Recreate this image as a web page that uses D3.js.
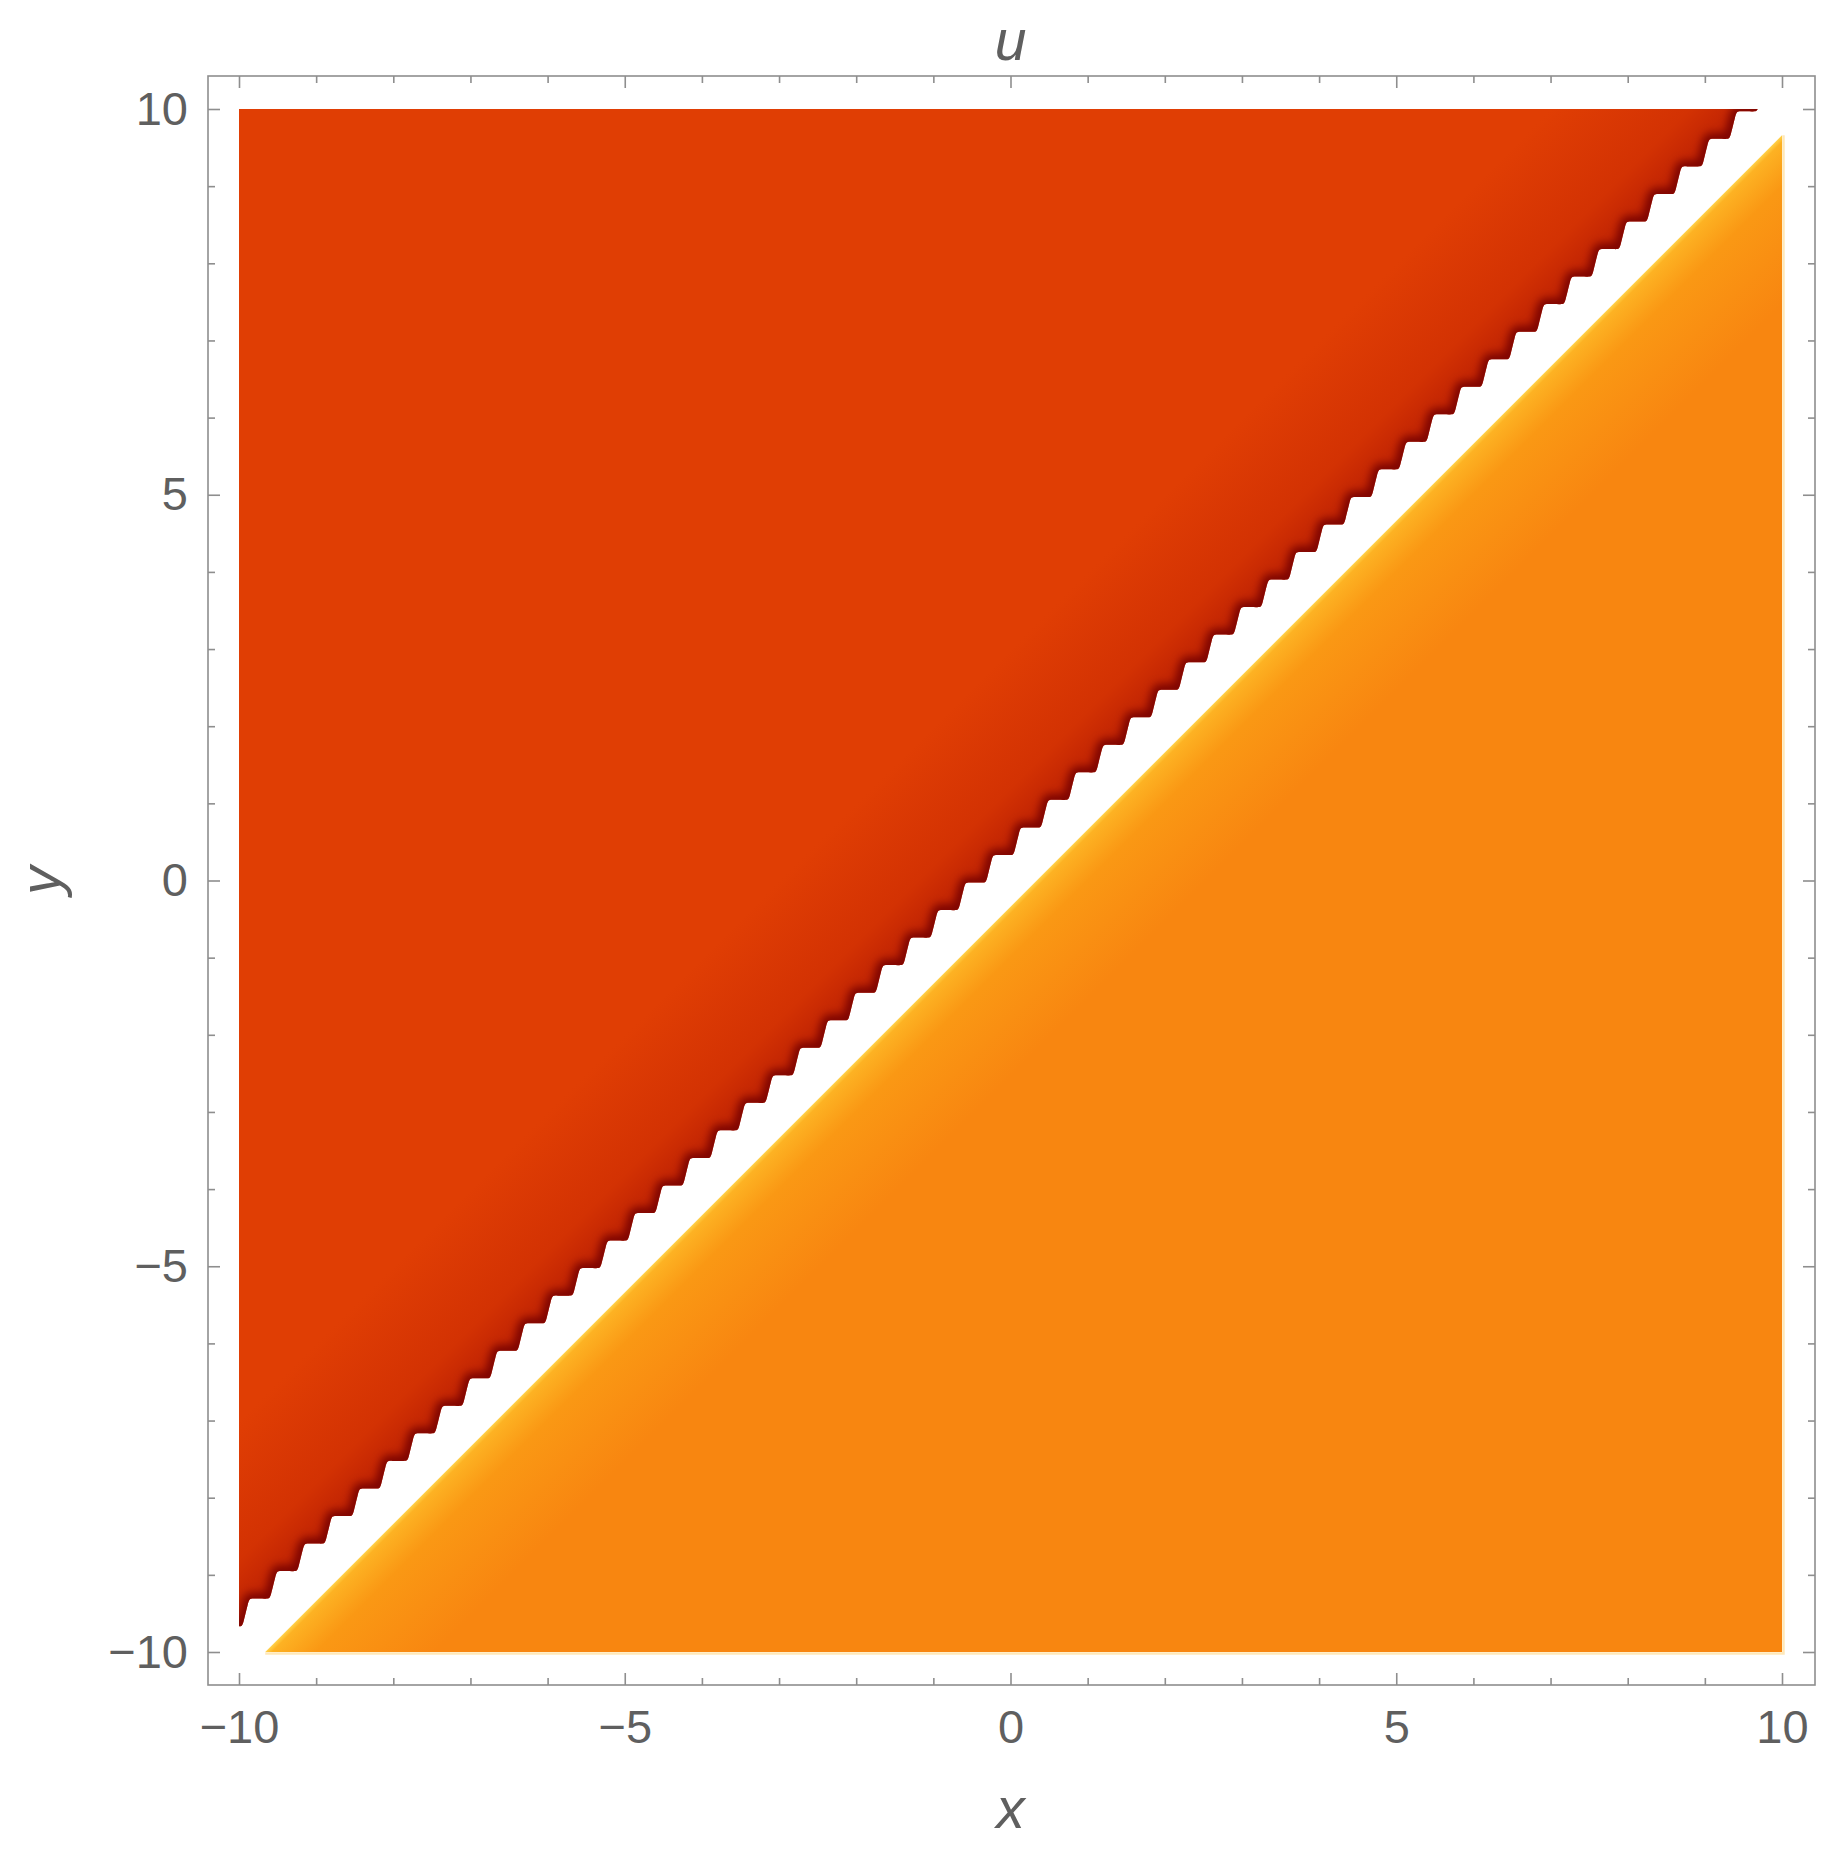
<!DOCTYPE html>
<html><head><meta charset="utf-8">
<script src="https://cdn.jsdelivr.net/npm/d3@7"></script>
<style>body{margin:0;background:#fff}</style>
</head><body>
<svg id="chart" width="1839" height="1858"></svg>
<script>
// ---- data ----
const xDomain = [-10, 10];
const yDomain = [-10, 10];
const majorTicks = [-10, -5, 0, 5, 10];
const minorTicks = [-9, -8, -7, -6, -4, -3, -2, -1, 1, 2, 3, 4, 6, 7, 8, 9];
const tickLabels = ["\u221210", "\u22125", "0", "5", "10"];
const regionNames = ["above", "below"];
const regionU = [0.3, 0.7];               // u level of each region
const regionEdgeOffset = [0.29, -0.34];   // y - x where each region stops
const stairStep = 0.357;                  // sampling step of the jagged edge
const stairTooth = [0.09, 0.36];          // tip -> inner corner of one tooth
const stairPhase = -9.6;                  // x of one tooth tip
const colorDomain = [0, 0.3, 0.7, 1];
const colorRange = ["#760700", "#E03E04", "#F88610", "#FFD23A"];
const titleText = "u", xLabel = "x", yLabel = "y";

// ---- layout ----
const svg = d3.select("#chart");
const frame = {l: 208, t: 76, r: 1815, b: 1685};
const x = d3.scaleLinear().domain(xDomain).range([239, 1782]);
const y = d3.scaleLinear().domain(yDomain).range([1652, 109]);
const color = d3.scaleLinear().domain(colorDomain).range(colorRange);
const font = "'Liberation Sans', Arial, Helvetica, sans-serif";
const defs = svg.append("defs");

defs.append("clipPath").attr("id", "plotClip").append("rect")
  .attr("x", x(-10)).attr("y", y(10)).attr("width", x(10) - x(-10)).attr("height", y(-10) - y(10));

// jagged upper edge corners (data coords)
const corners = [];
for (let k = -3; k <= 60; k++) {
  const tx = stairPhase + k * stairStep;
  const ty = tx + regionEdgeOffset[0];
  corners.push([tx, ty]);
  corners.push([tx + stairTooth[0], ty + stairTooth[1]]);
}
// guide points near each corner so the curve rounds corners only slightly
const stair = [];
for (let i = 0; i < corners.length - 1; i++) {
  const a = corners[i], b = corners[i + 1];
  stair.push(a);
  [0.2, 0.8].forEach(t => stair.push([a[0] + (b[0] - a[0]) * t, a[1] + (b[1] - a[1]) * t]));
}
stair.push(corners[corners.length - 1]);

const upperPoly = [[-11, 11], [-11, stair[0][1]], ...stair, [stair[stair.length - 1][0], 11]];
const lowerPoly = [[-10 - regionEdgeOffset[1], -10], [10, -10], [10, 10 + regionEdgeOffset[1]]];
const line = d3.line().x(d => x(d[0])).y(d => y(d[1]));
const curvy = d3.line().x(d => x(d[0])).y(d => y(d[1])).curve(d3.curveBasis);

// gradients
const cU = color(regionU[0]), cL = color(regionU[1]);
const s2 = Math.SQRT1_2;
const up0 = [x(0), y(0.42)];
const gU = defs.append("linearGradient").attr("id", "gU").attr("gradientUnits", "userSpaceOnUse")
  .attr("x1", up0[0]).attr("y1", up0[1]).attr("x2", up0[0] - 140 * s2).attr("y2", up0[1] - 140 * s2);
[[0, "#bf2203"], [0.3, "#d33203"], [1, cU]].forEach(s => gU.append("stop").attr("offset", s[0]).attr("stop-color", s[1]));
const lo0 = [x(0), y(regionEdgeOffset[1])];
const gL = defs.append("linearGradient").attr("id", "gL").attr("gradientUnits", "userSpaceOnUse")
  .attr("x1", lo0[0]).attr("y1", lo0[1]).attr("x2", lo0[0] + 120 * s2).attr("y2", lo0[1] + 120 * s2);
[[0, "#FFD24A"], [0.04, "#FDB223"], [0.3, "#FA9814"], [1, cL]].forEach(s => gL.append("stop").attr("offset", s[0]).attr("stop-color", s[1]));

defs.append("clipPath").attr("id", "upperClip").append("path").attr("d", curvy(upperPoly));
defs.append("filter").attr("id", "blur").attr("x", "-10%").attr("y", "-10%").attr("width", "120%").attr("height", "120%")
  .append("feGaussianBlur").attr("stdDeviation", 4);

const plot = svg.append("g").attr("clip-path", "url(#plotClip)");
plot.append("path").attr("d", curvy(upperPoly)).attr("fill", "url(#gU)");
plot.append("g").attr("clip-path", "url(#upperClip)")
  .append("path").attr("d", curvy(stair)).attr("fill", "none")
  .attr("stroke", color(0)).attr("stroke-width", 12).attr("stroke-opacity", 0.9)
  .attr("filter", "url(#blur)");
plot.append("path").attr("d", line(lowerPoly)).attr("fill", "url(#gL)");

// pale rim of the lower region
svg.append("path")
  .attr("d", `M${x(lowerPoly[0][0])},${y(-10) + 1.5}H${x(10) + 1.5}V${y(lowerPoly[2][1])}`)
  .attr("fill", "none").attr("stroke", "#FFD98A").attr("stroke-width", 2.5).attr("stroke-opacity", 0.6);

// ---- frame & ticks ----
svg.append("rect").attr("x", frame.l).attr("y", frame.t)
  .attr("width", frame.r - frame.l).attr("height", frame.b - frame.t)
  .attr("fill", "none").attr("stroke", "#8e8e8e").attr("stroke-width", 1.6);

const fmt = d => tickLabels[majorTicks.indexOf(d)];
function axis(gen, tr, vals, size, labels, pad) {
  const a = gen.tickValues(vals).tickSizeInner(-size).tickSizeOuter(0).tickPadding(pad)
    .tickFormat(labels ? fmt : () => "");
  const g = svg.append("g").attr("transform", tr).call(a);
  g.select(".domain").remove();
  g.selectAll(".tick line").attr("stroke", "#8e8e8e").attr("stroke-width", 1.6);
  g.selectAll(".tick text").attr("fill", "#5f5f5f").attr("font-family", font).attr("font-size", 47);
  return g;
}
axis(d3.axisBottom(x), `translate(0,${frame.b})`, majorTicks, 12, true, 25);
axis(d3.axisBottom(x), `translate(0,${frame.b})`, minorTicks, 7, false, 0);
axis(d3.axisTop(x), `translate(0,${frame.t})`, majorTicks, 12, false, 0);
axis(d3.axisTop(x), `translate(0,${frame.t})`, minorTicks, 7, false, 0);
axis(d3.axisLeft(y), `translate(${frame.l},0)`, majorTicks, 12, true, 20);
axis(d3.axisLeft(y), `translate(${frame.l},0)`, minorTicks, 7, false, 0);
axis(d3.axisRight(y), `translate(${frame.r},0)`, majorTicks, 12, false, 0);
axis(d3.axisRight(y), `translate(${frame.r},0)`, minorTicks, 7, false, 0);

// ---- labels ----
const lab = (t, tx, ty, rot) => svg.append("text").text(t)
  .attr("transform", `translate(${tx},${ty})` + (rot ? ` rotate(${rot})` : ""))
  .attr("text-anchor", "middle").attr("font-family", font).attr("font-style", "italic")
  .attr("font-size", 57).attr("fill", "#5f5f5f");
lab(titleText, (x(-10) + x(10)) / 2, 60);
lab(xLabel, (x(-10) + x(10)) / 2, 1828);
lab(yLabel, 60, (y(-10) + y(10)) / 2, -90);
</script>
</body></html>
